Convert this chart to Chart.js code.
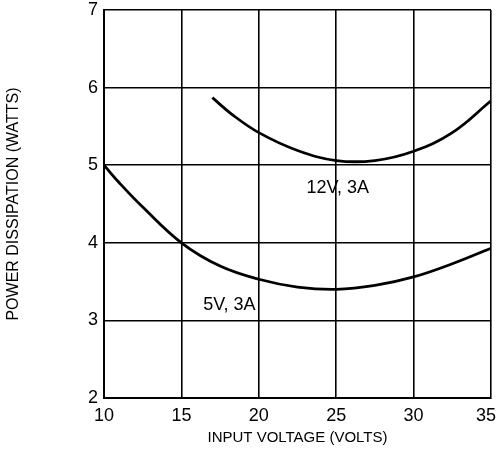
<!DOCTYPE html>
<html>
<head>
<meta charset="utf-8">
<script src="https://cdn.jsdelivr.net/npm/chart.js@4.4.1/dist/chart.umd.min.js"></script>
<style>
  body { margin: 0; background: #fff; }
  #wrap { width: 496px; height: 449px; }
</style>
</head>
<body>
<div id="wrap"><canvas id="chart" width="496" height="449"></canvas></div>
<script>
// Curve readings (input voltage in volts, dissipation in watts)
const v12x = [17, 18.3, 20, 22.5, 25, 27.5, 30, 32.5, 35];
const v12y = [5.87, 5.65, 5.42, 5.19, 5.06, 5.06, 5.18, 5.42, 5.83];

const v5x = [10, 11, 12.5, 15, 17.5, 20, 22.5, 25, 27.5, 30, 32.5, 35];
const v5y = [5.0, 4.77, 4.46, 4.0, 3.70, 3.53, 3.43, 3.40, 3.45, 3.56, 3.73, 3.93];

const xTicks = [10, 15, 20, 25, 30, 35];
const yTicks = [2, 3, 4, 5, 6, 7];

// curve labels, placed in data units
const curveLabels = [
    { text: '12V, 3A', x: 25.1, y: 4.71 },
    { text: '5V, 3A', x: 18.1, y: 3.2 }
];

const FONT = '"Liberation Sans", Arial, Helvetica, sans-serif';

function toPoints(xs, ys) {
    return xs.map((x, i) => ({ x: x, y: ys[i] }));
}

// draws the "12V, 3A" / "5V, 3A" text next to the curves
const curveLabelPlugin = {
    id: 'curveLabels',
    afterDatasetsDraw(chart) {
        const ctx = chart.ctx;
        const xs = chart.scales.x;
        const ys = chart.scales.y;
        ctx.save();
        ctx.fillStyle = '#000';
        ctx.font = '18px ' + FONT;
        ctx.textAlign = 'center';
        ctx.textBaseline = 'middle';
        curveLabels.forEach(l => {
            ctx.fillText(l.text, xs.getPixelForValue(l.x), ys.getPixelForValue(l.y));
        });
        ctx.restore();
    }
};

const ctx = document.getElementById('chart').getContext('2d');
const chart = new Chart(ctx, {
    type: 'line',
    data: {
        datasets: [{
            label: '12V, 3A',
            data: toPoints(v12x, v12y),
            borderColor: '#000',
            borderWidth: 2.8,
            pointRadius: 0,
            tension: 0.4,
            fill: false
        }, {
            label: '5V, 3A',
            data: toPoints(v5x, v5y),
            borderColor: '#000',
            borderWidth: 2.8,
            pointRadius: 0,
            tension: 0.4,
            fill: false
        }]
    },
    options: {
        responsive: false,
        animation: false,
        events: [],
        layout: {
            padding: { top: 10, right: 5, left: 0, bottom: 0 }
        },
        plugins: {
            legend: { display: false },
            tooltip: { enabled: false }
        },
        scales: {
            x: {
                type: 'linear',
                min: 10,
                max: 35,
                afterBuildTicks: axis => { axis.ticks = xTicks.map(v => ({ value: v })); },
                afterFit: axis => {
                    axis.height = 51;
                    axis.paddingLeft = 0;
                    axis.paddingRight = 0;
                },
                grid: { color: '#000', lineWidth: 1.6, drawTicks: false },
                border: { display: true, color: '#000', width: 2 },
                ticks: {
                    color: '#000',
                    padding: 7,
                    maxRotation: 0,
                    font: { family: FONT, size: 18 },
                    // last label sits against the right edge, pad it so it stays inside
                    callback: v => v === 35 ? v + '\u00a0\u00a0' : String(v)
                },
                title: {
                    display: true,
                    text: 'INPUT VOLTAGE (VOLTS)',
                    color: '#000',
                    padding: { top: 0, bottom: 2 },
                    font: { family: FONT, size: 15 }
                }
            },
            y: {
                type: 'linear',
                min: 2,
                max: 7,
                afterBuildTicks: axis => { axis.ticks = yTicks.map(v => ({ value: v })); },
                afterFit: axis => {
                    axis.width = 104;
                    axis.paddingTop = 0;
                    axis.paddingBottom = 0;
                },
                grid: { color: '#000', lineWidth: 1.6, drawTicks: false },
                border: { display: true, color: '#000', width: 2 },
                ticks: {
                    color: '#000',
                    padding: 6,
                    font: { family: FONT, size: 18 }
                },
                title: {
                    display: true,
                    text: 'POWER DISSIPATION (WATTS)',
                    color: '#000',
                    padding: { top: 4, bottom: 0 },
                    font: { family: FONT, size: 16 }
                }
            }
        }
    },
    plugins: [curveLabelPlugin]
});
</script>
</body>
</html>
